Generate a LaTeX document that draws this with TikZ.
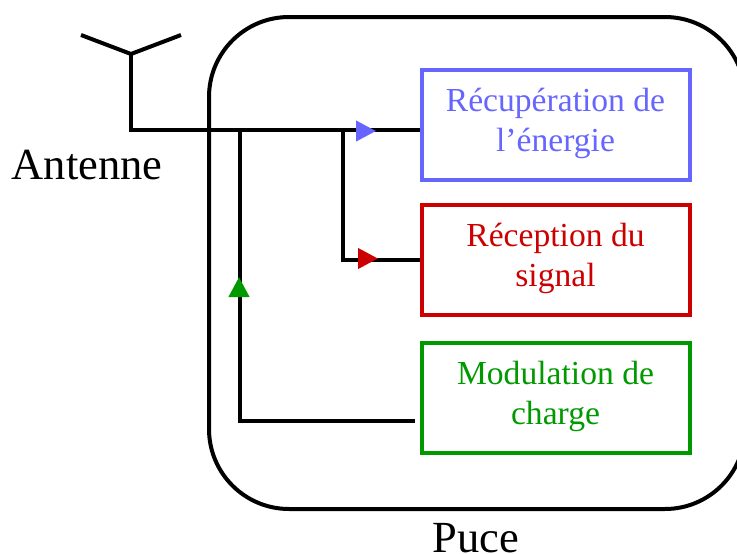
\documentclass[tikz,border=0pt]{standalone}
\usepackage{fontspec}
\setmainfont{Liberation Serif}
\usepackage[]{xcolor}
\usetikzlibrary{positioning,arrows.meta}
\definecolor{recupblue}{HTML}{6666FF}
\definecolor{recepred}{HTML}{CC0000}
\definecolor{modgreen}{HTML}{009900}
\tikzset{wire/.style={line width=4pt,line join=miter,black}}
\tikzset{bloc/.style={draw,line width=4pt,minimum width=268pt,minimum height=110pt,inner sep=0pt,text depth=10pt,align=center,font=\fontsize{33.6}{40}\selectfont}}
\tikzset{legende/.style={inner sep=0pt,font=\fontsize{44.5}{50}\selectfont}}
\tikzset{tip/.style={-{Triangle[length=20pt,width=20pt,color=#1]}}}
\begin{document}
\begin{tikzpicture}[x=1pt,y=-1pt] %1 unit = 1 pixel of the reference
            \useasboundingbox (0,0) rectangle (737,554);
            \node[draw,line width=4pt,rounded corners=80pt,minimum width=536pt,minimum height=492pt] (puce) at (477,263) {}; % coupé à droite
            \node[legende,anchor=base] (puceLabel) at (476,552) {Puce};
            \node[legende,anchor=base] (antenneLabel) at (87,179) {Antenne};
            % les trois blocs
            \node[bloc,recupblue] (recup) at (555.5,124.5) {Récupération de\\l’énergie};
            \node[bloc,recepred,below=21.5pt of recup] (recep) {Réception du\\signal};
            \node[bloc,modgreen,below=24pt of recep] (modul) {Modulation de\\charge};
            % antenne
            \coordinate (pied) at (131,54);
            \coordinate (brasG) at (81,35);
            \coordinate (brasD) at (181,35);
            \coordinate (coude) at (131,129.5);
            \draw[wire] (brasG)--(pied)--(brasD);
            \draw[wire] (pied)--(coude)--(coude-|recup.west);
            % branches
            \coordinate (nA) at (240,129.5);
            \coordinate (nB) at (343,129.5);
            \coordinate (coudeB) at (343,259.5);
            \coordinate (coudeC) at (240,421);
            \coordinate (finC) at (415,421);
            \coordinate (tipBleu) at (376,131);
            \coordinate (tipRouge) at (378,258.5);
            \coordinate (tipVert) at (239,277);
            \draw[wire] (nB)--(coudeB)--(coudeB-|recep.west);
            \draw[wire] (finC)--(coudeC)--(nA);
            \draw[tip=recupblue,wire] ([xshift=-20pt]tipBleu)--(tipBleu);
            \draw[tip=recepred,wire] ([xshift=-20pt]tipRouge)--(tipRouge);
            \draw[tip=modgreen,wire] ([yshift=-20pt]tipVert)--(tipVert);
        \end{tikzpicture}
\end{document}
